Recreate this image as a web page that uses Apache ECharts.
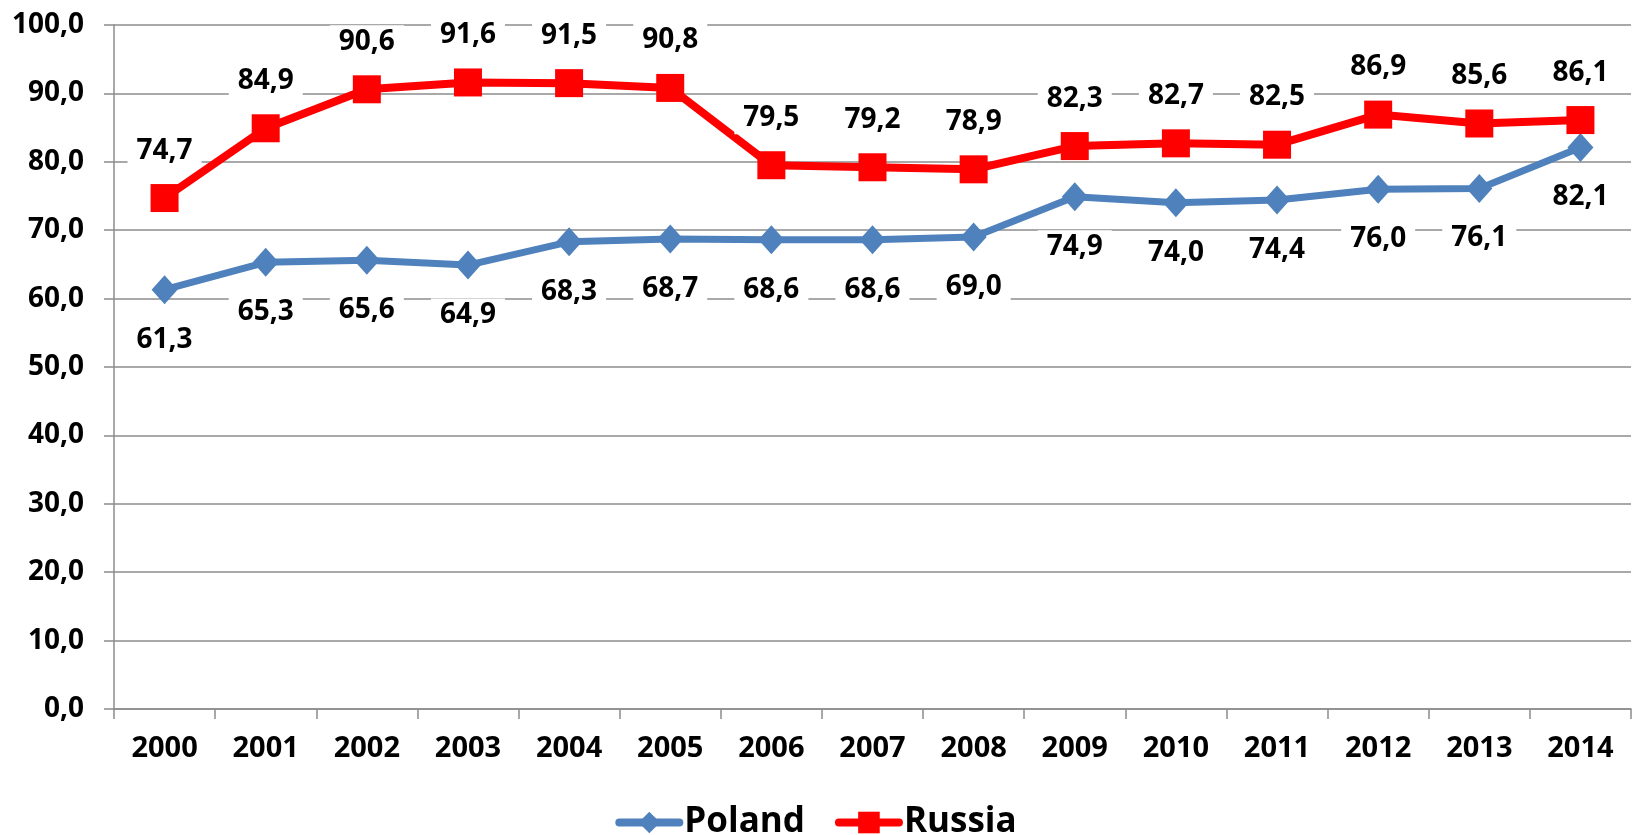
<!DOCTYPE html>
<html><head><meta charset="utf-8">
<script src="https://cdn.jsdelivr.net/npm/echarts@6/dist/echarts.min.js"></script>
<style>html,body{margin:0;padding:0;background:#fff}#c{width:1632px;height:835px}</style>
</head><body><div id="c"></div>
<script>
const years = ['2000','2001','2002','2003','2004','2005','2006','2007','2008','2009','2010','2011','2012','2013','2014'];
const poland = [61.3,65.3,65.6,64.9,68.3,68.7,68.6,68.6,69.0,74.9,74.0,74.4,76.0,76.1,82.1];
const russia = [74.7,84.9,90.6,91.6,91.5,90.8,79.5,79.2,78.9,82.3,82.7,82.5,86.9,85.6,86.1];

const FONT = 'Open Sans';
const fmt = v => v.toFixed(1).replace('.', ',');
const chart = echarts.init(document.getElementById('c'));
chart.setOption({
  animation: false,
  textStyle: { fontFamily: FONT },
  grid: { left: 114, right: 1, top: 25, bottom: 126, containLabel: false },
  legend: {
    top: 800, left: 'center', itemWidth: 60, itemHeight: 27, itemGap: 30,
    lineStyle: { width: 8, cap: 'round' },
    textStyle: { fontFamily: FONT, fontWeight: 'bold', fontSize: 35, color: '#000' },
    data: ['Poland', 'Russia']
  },
  xAxis: {
    type: 'category', data: years, boundaryGap: true,
    axisLine: { lineStyle: { color: '#8c8c8c', width: 1.5 } },
    axisTick: { show: true, alignWithLabel: false, length: 10, lineStyle: { color: '#8c8c8c', width: 1.5 } },
    axisLabel: { color: '#000', fontFamily: FONT, fontWeight: 'bold', fontSize: 29, margin: 25 }
  },
  yAxis: {
    type: 'value', min: 0, max: 100, interval: 10,
    axisLine: { show: true, lineStyle: { color: '#8c8c8c', width: 1.5 } },
    axisTick: { show: true, length: 10, lineStyle: { color: '#8c8c8c', width: 1.5 } },
    splitLine: { lineStyle: { color: '#8c8c8c', width: 1.5 } },
    axisLabel: { color: '#000', fontFamily: FONT, fontWeight: 'bold', fontSize: 28, margin: 30, formatter: v => fmt(v) }
  },
  series: [
    {
      name: 'Poland', type: 'line', data: poland,
      symbol: 'diamond', symbolSize: [26, 29],
      lineStyle: { color: '#4F81BD', width: 7 },
      itemStyle: { color: '#4F81BD' },
      label: {
        show: true, position: 'bottom', distance: 19,
        formatter: p => fmt(p.value),
        color: '#000', fontFamily: FONT, fontWeight: 'bold', fontSize: 28, lineHeight: 29,
        backgroundColor: '#fff', padding: [2, 9]
      },
      z: 3
    },
    {
      name: 'Russia', type: 'line', data: russia,
      symbol: 'rect', symbolSize: 28,
      lineStyle: { color: '#FF0000', width: 8 },
      itemStyle: { color: '#FF0000' },
      label: {
        show: true, position: 'top', distance: 17,
        formatter: p => fmt(p.value),
        color: '#000', fontFamily: FONT, fontWeight: 'bold', fontSize: 28, lineHeight: 29,
        backgroundColor: '#fff', padding: [2, 9]
      },
      z: 4
    }
  ]
});
</script></body></html>
